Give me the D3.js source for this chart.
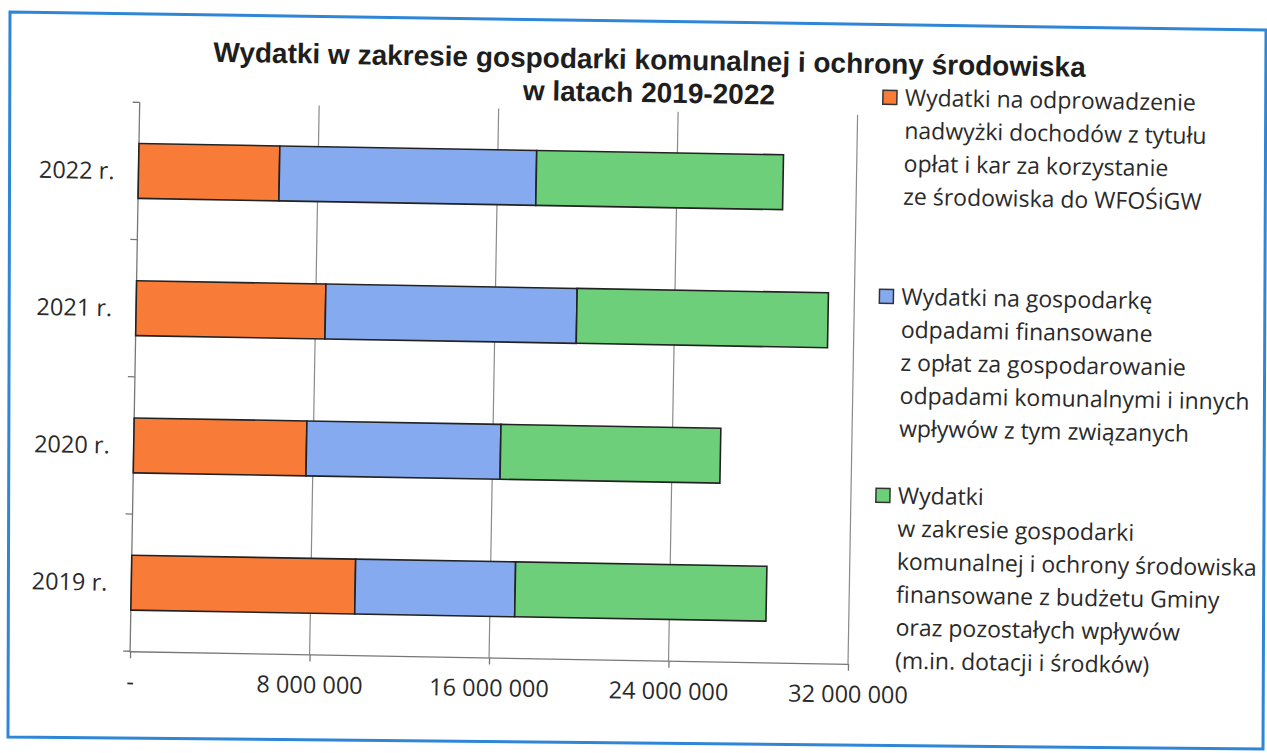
<!DOCTYPE html>
<html>
<head>
<meta charset="utf-8">
<script src="https://cdn.jsdelivr.net/npm/d3@7"></script>
<style>
  body { margin: 0; background: #fff; }
</style>
</head>
<body>
<div id="chart"></div>
<script>
// years top to bottom, as in the picture
const years = ["2022 r.", "2021 r.", "2020 r.", "2019 r."];
const odprowadzenie = [6280000, 8440000, 7700000, 9980000];
const odpady = [11450000, 11200000, 8650000, 7130000];
const budzet = [11000000, 11200000, 9800000, 11200000];
const xTicks = [0, 8000000, 16000000, 24000000, 32000000];

const titleLines = [
  "Wydatki w zakresie gospodarki komunalnej i ochrony środowiska",
  "w latach 2019-2022"
];
const legendItems = [
  ["Wydatki na odprowadzenie", "nadwyżki dochodów z tytułu", "opłat i kar za korzystanie", "ze środowiska do WFOŚiGW"],
  ["Wydatki na gospodarkę", "odpadami finansowane", "z opłat za gospodarowanie", "odpadami komunalnymi i innych", "wpływów z tym związanych"],
  ["Wydatki", "w zakresie gospodarki", "komunalnej i ochrony środowiska", "finansowane z budżetu Gminy", "oraz pozostałych wpływów", "(m.in. dotacji i środków)"]
];
const seriesKeys = ["odprowadzenie", "odpady", "budzet"];
const colors = ["#f87b37", "#85aaf0", "#6dcf7a"];

const width = 1267, height = 753;
const plot = {left: 135, right: 853, top: 111, bottom: 660};

const svg = d3.select("#chart").append("svg")
  .attr("width", width)
  .attr("height", height);

// scanned page frame
svg.append("path")
  .attr("d", "M10,12 L1266,30 L1263,749 L8,737 Z")
  .attr("fill", "none")
  .attr("stroke", "#2f86d6")
  .attr("stroke-width", 3);

// the scanned chart is tilted by about one degree
const g = svg.append("g").attr("transform", "rotate(1, 633, 376)");

const rows = years.map((y, i) => ({
  year: y,
  odprowadzenie: odprowadzenie[i],
  odpady: odpady[i],
  budzet: budzet[i]
}));
const stacked = d3.stack().keys(seriesKeys)(rows);

const xScale = d3.scaleLinear().domain([0, 32000000]).range([plot.left, plot.right]);
const yScale = d3.scaleBand().domain(years).range([plot.top, plot.bottom])
  .paddingInner(0.6).paddingOuter(0.3);

const fmt = d3.formatLocale({decimal: ",", thousands: " ", grouping: [3], currency: ["", ""]}).format(",d");

// gridlines
g.append("g").selectAll("line")
  .data(xTicks.slice(1))
  .enter().append("line")
  .attr("x1", d => xScale(d)).attr("x2", d => xScale(d))
  .attr("y1", plot.top).attr("y2", plot.bottom)
  .style("stroke", "#8a8a8a")
  .style("stroke-width", 1.2);

// bottom axis
const xAxis = g.append("g")
  .attr("transform", `translate(0, ${plot.bottom})`)
  .call(d3.axisBottom(xScale).tickValues(xTicks).tickSize(7).tickSizeOuter(0)
    .tickFormat(d => d === 0 ? "-" : fmt(d)));
xAxis.select(".domain").style("stroke", "#777").style("stroke-width", 1.3);
xAxis.selectAll(".tick line").style("stroke", "#777").style("stroke-width", 1.3);
xAxis.selectAll(".tick text")
  .attr("y", 22)
  .style("font-family", "'Open Sans', sans-serif")
  .style("font-size", "23.5px")
  .style("fill", "#2a2a2a");

// left axis, ticks between categories
const yAxis = g.append("g").attr("transform", `translate(${plot.left}, 0)`);
yAxis.append("line")
  .attr("x1", 0).attr("x2", 0)
  .attr("y1", plot.top).attr("y2", plot.bottom + 1)
  .style("stroke", "#777").style("stroke-width", 1.3);
const step = yScale.step();
const bounds = d3.range(years.length + 1).map(i => plot.top + i * step);
yAxis.selectAll("line.tk")
  .data(bounds)
  .enter().append("line")
  .attr("class", "tk")
  .attr("x1", -7).attr("x2", 0)
  .attr("y1", d => d).attr("y2", d => d)
  .style("stroke", "#777").style("stroke-width", 1.3);
yAxis.selectAll("text")
  .data(years)
  .enter().append("text")
  .attr("x", -24)
  .attr("y", d => yScale(d) + yScale.bandwidth() / 2)
  .attr("dy", "0.36em")
  .attr("text-anchor", "end")
  .style("font-family", "'Open Sans', sans-serif")
  .style("font-size", "23.5px")
  .style("fill", "#2a2a2a")
  .text(d => d);

// bars
g.append("g").selectAll("g")
  .data(stacked)
  .enter().append("g")
  .attr("fill", (d, i) => colors[i])
  .selectAll("rect")
  .data(d => d)
  .enter().append("rect")
  .attr("x", d => xScale(d[0]))
  .attr("width", d => xScale(d[1]) - xScale(d[0]))
  .attr("y", d => yScale(d.data.year))
  .attr("height", yScale.bandwidth())
  .style("stroke", "#222")
  .style("stroke-width", 1.6);

// title
g.append("g").selectAll("text")
  .data(titleLines)
  .enter().append("text")
  .attr("x", 644)
  .attr("y", (d, i) => 69 + i * 33)
  .attr("text-anchor", "middle")
  .style("font-family", "'Liberation Sans Narrow', 'Arial Narrow', 'Liberation Sans', sans-serif")
  .style("font-weight", "bold")
  .style("font-size", "28px")
  .style("fill", "#1e1e1e")
  .text(d => d);

// legend
const legend = g.append("g");
const item = legend.selectAll("g")
  .data(legendItems)
  .enter().append("g")
  .attr("transform", (d, i) => `translate(878, ${101 + i * 199})`);
item.append("rect")
  .attr("x", 0).attr("y", -15)
  .attr("width", 14).attr("height", 14)
  .attr("fill", (d, i) => colors[i])
  .style("stroke", "#333").style("stroke-width", 1.5);
item.selectAll("text")
  .data(d => d)
  .enter().append("text")
  .attr("x", 22)
  .attr("y", (d, i) => i * 33)
  .style("font-family", "'Open Sans', sans-serif")
  .style("font-size", "23px")
  .style("fill", "#2a2a2a")
  .text(d => d);
</script>
</body>
</html>
